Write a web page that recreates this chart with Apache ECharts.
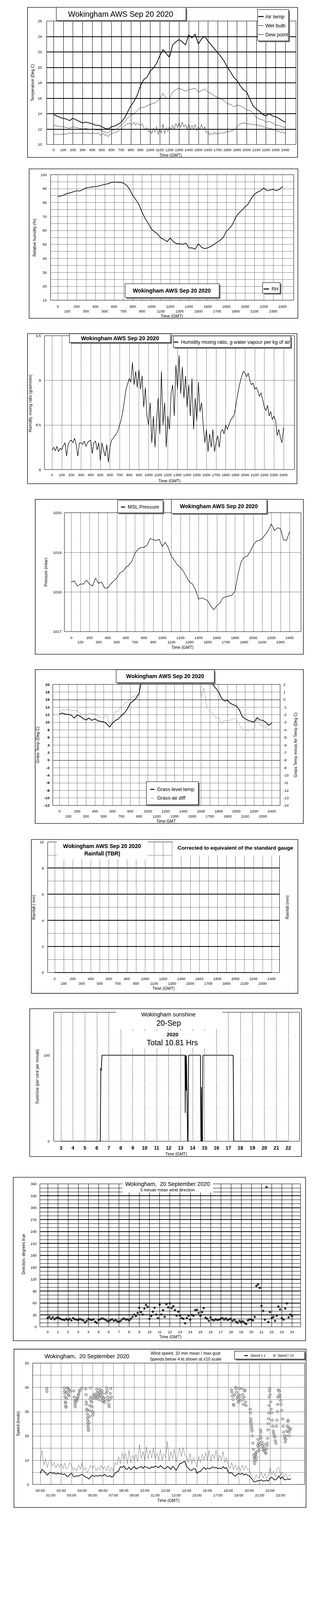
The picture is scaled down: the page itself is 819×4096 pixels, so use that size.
<!DOCTYPE html>
<html><head><meta charset="utf-8">
<script src="https://cdn.jsdelivr.net/npm/echarts@6/dist/echarts.min.js"></script>
<style>html,body{margin:0;padding:0;background:#fff}#c{width:819px;height:4096px}</style>
</head><body><div id="c"></div>
<script>
// ---------- tick labels ----------
const hundredTicks = [0,100,200,300,400,500,600,700,800,900,1000,1100,1200,1300,1400,1500,1600,1700,1800,1900,2000,2100,2200,2300,2400];
const hourTicks = [0,1,2,3,4,5,6,7,8,9,10,11,12,13,14,15,16,17,18,19,20,21,22,23,24];
const sunTicks = [3,4,5,6,7,8,9,10,11,12,13,14,15,16,17,18,19,20,21,22];
const speedTicks = [0,1,2,3,4,5,6,7,8,9,10,11,12,13,14,15,16,17,18,19,20,21,22,23];

// ---------- data (20-minute values, 00:00 .. 24:00) ----------
const airTemp = [13.9,13.7,13.5,13.4,13.3,13.1,13.4,13.2,13.0,12.8,12.9,12.8,12.7,12.5,12.5,12.3,12.1,12.0,12.3,12.4,12.6,12.9,13.4,14.2,15.0,15.6,16.4,17.6,18.4,18.7,19.5,19.9,20.5,21.5,22.3,21.8,21.3,22.9,23.3,23.6,23.3,22.9,24.2,23.8,24.3,23.0,23.7,24.0,23.4,22.9,22.4,21.9,21.4,20.8,20.0,19.4,18.7,18.3,17.6,17.1,16.8,15.9,15.0,14.6,14.3,13.9,13.7,14.0,13.7,13.6,13.4,13.1,12.9];
const wetBulb = [12.5,12.4,12.3,12.3,12.2,12.1,12.3,12.2,12.1,12.0,12.05,12.0,12.0,11.9,11.9,11.8,11.6,11.5,11.9,11.9,12.1,12.5,12.9,13.4,13.8,14.0,14.4,14.8,14.8,15.0,15.2,15.3,15.5,15.9,16.6,16.0,16.0,16.8,17.1,17.3,17.1,16.9,17.1,17.2,17.3,16.8,17.0,17.2,16.8,16.6,16.3,16.1,15.9,15.7,15.3,15.2,14.9,15.1,15.0,14.8,14.5,14.4,14.1,13.5,13.3,13.2,12.9,13.0,12.8,12.5,12.5,12.3,12.2];
const relHum = [84.2,84.8,85.5,86.5,87.0,87.8,88.5,88.3,89.3,90.5,90.8,91.2,91.5,91.8,92.5,93.0,93.5,94.3,94.8,94.6,94.5,94.0,92.5,89.5,85.0,82.0,78.5,73.0,68.5,65.0,61.0,59.0,57.5,54.5,53.5,52.0,54.5,52.0,50.5,50.5,50.0,51.0,47.5,47.5,46.5,50.5,48.0,47.0,47.5,48.5,50.0,51.5,53.0,55.0,59.5,61.5,64.5,69.5,72.5,74.5,77.0,79.0,83.0,86.0,87.5,88.5,90.5,88.5,89.0,89.5,88.5,89.5,91.5];
const pressure = [1018.25,1018.28,1018.15,1018.2,1018.2,1018.3,1018.2,1018.15,1018.35,1018.22,1018.25,1018.1,1018.1,1018.2,1018.28,1018.35,1018.48,1018.52,1018.62,1018.68,1018.78,1018.98,1019.08,1019.12,1019.13,1019.18,1019.35,1019.32,1019.3,1019.33,1019.15,1019.25,1019.12,1018.9,1018.8,1018.68,1018.62,1018.52,1018.38,1018.25,1018.2,1018.05,1017.82,1017.85,1017.82,1017.78,1017.65,1017.55,1017.65,1017.72,1017.85,1017.88,1017.9,1017.92,1018.02,1018.45,1018.75,1018.88,1018.9,1019.02,1019.18,1019.28,1019.3,1019.35,1019.45,1019.55,1019.72,1019.55,1019.62,1019.6,1019.32,1019.3,1019.52];
const grassTemp = [12.2,12.4,12.1,12.1,11.9,11.1,11.9,11.6,11.0,10.6,11.1,10.5,10.9,10.4,10.2,10.1,9.6,8.7,9.8,10.5,10.9,11.8,12.4,13.5,15.0,15.6,16.4,17.6,22.0,25.0,27.0,28.5,30.0,31.0,32.0,31.5,31.0,32.5,33.0,33.0,32.0,31.5,32.0,31.5,31.0,29.0,29.5,29.0,27.0,25.5,23.5,21.5,20.0,19.0,18.0,16.3,15.6,15.8,15.0,14.6,14.3,13.3,11.5,10.9,10.5,10.2,10.0,11.2,10.6,10.5,10.0,9.2,9.8];
const grassAirDiff = [-1.65,-1.35,-1.4,-1.25,-1.5,-1.45,-1.45,-1.9,-2.0,-2.1,-1.8,-1.9,-1.9,-2.2,-2.3,-2.4,-1.9,-3.3,-2.75,-1.6,-1.5,-0.9,-0.6,-0.3,0.1,0.4,0.5,0.65,3.6,6.3,7.5,8.6,9.5,9.5,9.7,9.7,9.7,9.6,9.7,9.4,8.7,8.6,7.8,7.7,6.7,6.0,5.8,5.0,0.25,1.5,-1.1,-1.5,-1.85,-2.5,-2.35,-3.2,-2.75,-2.85,-2.7,-2.5,-2.6,-3.3,-3.9,-4.05,-4.1,-4.0,-3.85,-2.6,-3.3,-3.5,-3.7,-4.0,-3.75];
const rainMm = [0,0,0,0,0,0,0,0,0,0,0,0,0,0,0,0,0,0,0,0,0,0,0,0,0];

// ---------- data (10-minute values, 00:00 .. 24:00) ----------
const dewPoint = [11.3,11.3,11.35,11.3,11.3,11.35, 11.3,11.4,11.3,11.45,11.5,11.4, 11.5,11.45,11.5,11.4,11.5,11.45, 11.5,11.4,11.45,11.5,11.45,11.4, 11.45,11.5,11.4,11.45,11.5,11.2, 11.3,11.45,11.15,11.3,11.0,11.3, 11.45,11.5,11.6,11.6,11.7,11.85, 12.0,12.2,12.4,12.55,12.7,12.7, 12.7,12.6,12.9,12.5,12.8,12.6, 12.5,12.7,12.2,11.9,12.2,11.6, 11.8,11.4,12.1,11.6,12.3,11.3, 12.0,11.5,12.6,11.4,12.2,11.7, 12.3,11.9,12.5,12.0,12.7,12.2, 12.8,12.2,12.9,12.3,12.6,12.0, 12.6,11.9,12.5,12.0,12.6,11.8, 12.3,12.0,12.6,11.9,12.3,11.5, 11.7,11.2,11.5,11.3,11.6,11.3, 11.5,11.35,11.6,11.45,11.5,11.6, 11.7,11.65,11.75,11.8,11.9,12.0, 12.3,12.5,12.65,12.75,12.8,12.75, 12.7,12.65,12.7,12.6,12.55,12.6, 12.5,12.55,12.4,12.45,12.3,12.3, 12.1,12.2,12.0,12.1,11.9,11.95, 11.9,11.7,11.8,11.5,11.65,11.5, 11.5];
const mixRatio = [8.22,8.25,8.21,8.26,8.2,8.24, 8.22,8.27,8.3,8.15,8.28,8.32, 8.33,8.3,8.35,8.28,8.15,8.3, 8.3,8.28,8.32,8.26,8.3,8.32, 8.33,8.18,8.3,8.32,8.22,8.3, 8.1,8.3,8.22,8.15,8.28,8.08, 8.25,8.33,8.35,8.38,8.4,8.44, 8.5,8.56,8.65,8.78,8.9,8.96, 9.02,8.98,9.2,8.95,9.1,8.92, 9.12,8.9,9.05,8.7,8.92,8.6, 8.5,8.75,8.3,8.6,8.25,8.55, 8.8,8.4,9.1,8.5,8.75,8.25, 8.6,8.45,8.85,8.95,8.6,9.17, 8.9,9.28,8.85,9.15,8.8,9.05, 8.7,8.95,8.6,9.02,8.45,8.8, 8.55,8.98,8.65,8.75,8.5,8.3, 8.45,8.2,8.4,8.25,8.45,8.2, 8.3,8.38,8.25,8.42,8.45,8.4, 8.5,8.45,8.5,8.55,8.58,8.6, 8.68,8.8,8.9,8.98,9.05,9.1, 9.08,9.04,9.08,9.0,8.95,8.97, 8.9,8.92,8.88,8.82,8.86,8.78, 8.7,8.66,8.72,8.6,8.65,8.56, 8.6,8.55,8.38,8.45,8.36,8.3, 8.47];
const windDir = [22,25,20,24,19,22, 24,21,19,18,17,20, 17,20,16,22,19,18, 17,20,18,16,11,15, 20,18,17,19,13,10, 17,19,21,20,18,15, 14,17,19,15,17,14, 13,15,19,21,18,19, 16,20,25,31,27,35, 48,37,31,46,55,50, 20,27,38,48,31,22, 56,31,42,25,57,49, 59,47,52,42,28,38, 28,22,20,9,22,28, 18,30,28,42,43,35, 28,37,47,23,20,15, 24,18,16,19,17,18, 20,22,18,21,17,19, 20,15,18,13,10,15, 12,14,10,7,16,19, 18,16,25,103,107,98, 53,40,18,352,12,37, 22,25,15,28,51,44, 22,18,46,59,24,31, 27];
const meanSpeed = [4.5,6.3,5.5,4.8,3.8,4.6, 5.0,4.5,4.8,4.2,4.7,4.3, 4.5,4.0,4.4,3.5,3.2,4.2, 4.6,3.3,3.2,3.6,3.4,3.9, 4.1,3.6,3.0,2.8,2.2,3.2, 3.8,3.3,3.6,3.4,3.8,3.5, 3.6,4.2,3.4,3.3,3.6,3.0, 3.4,4.8,5.1,5.6,7.3,7.0, 7.6,6.5,6.2,7.2,6.0,6.8, 7.4,6.3,6.8,7.0,7.4,6.6, 7.5,7.0,6.8,6.6,7.3,6.9, 7.6,7.2,6.9,7.8,7.1,6.5, 6.6,7.4,7.0,6.2,7.5,6.8, 5.8,7.0,8.5,8.7,9.2,9.6, 7.3,6.8,5.9,5.8,6.5,6.4, 4.6,5.2,5.4,6.3,7.1,6.2, 6.8,6.4,6.7,7.3,6.8,7.0, 6.5,6.8,6.4,7.4,6.6,6.9, 5.0,4.6,4.9,3.9,3.4,4.1, 4.5,4.2,4.6,3.9,4.3,3.8, 3.6,2.7,1.8,1.0,1.2,1.6, 1.5,1.9,1.4,1.5,1.8,1.3, 2.6,3.0,2.2,1.8,2.4,3.6, 2.2,3.2,2.0,1.9,2.3,2.0, 2.4];
const gustSpeed = [9.5,14.0,8.0,10.5,7.0,9.5, 10.2,7.5,9.0,6.8,8.6,7.0, 8.5,6.5,8.8,6.3,7.2,9.0, 7.5,5.8,6.8,5.5,8.0,6.3, 9.0,5.8,7.0,4.8,6.0,8.0, 6.5,7.8,5.5,7.0,5.8,8.0, 6.3,7.5,5.6,7.8,5.4,7.0, 5.3,9.0,8.0,11.5,8.5,13.0, 10.5,12.8,8.5,14.0,9.0,12.0, 10.0,12.5,9.5,16.5,10.5,13.5, 9.8,15.5,10.5,14.0,11.0,15.0, 10.5,13.0,9.8,14.5,10.0,12.5, 11.0,17.8,9.8,13.5,10.5,14.5, 9.0,12.0,15.0,11.5,15.2,12.0, 11.5,9.0,12.8,8.5,11.0,9.0, 7.5,11.5,9.0,12.5,10.0,13.0, 10.0,14.0,9.5,12.5,10.5,14.0, 9.5,12.0,10.0,13.5,9.0,11.0, 8.0,6.5,9.0,6.0,8.0,5.8, 7.5,5.5,8.0,5.8,7.8,6.0, 6.5,4.0,3.0,2.0,4.0,2.5, 3.2,5.0,2.6,4.5,2.4,3.5, 6.8,4.0,5.5,3.2,6.5,7.0, 3.5,5.2,3.0,4.5,2.8,3.8, 4.0];

// speeds below 4 kt shown x10: [hour, value]
const speedTenth = [[0.62,39.5],[0.63,38.3],
[2.3,39.8],[2.32,38.5],[2.35,37.5],[2.38,36],[2.4,34],[2.42,33.5],[2.44,32.2],[2.46,31.8],[2.5,35.5],[2.55,38],[2.6,39.8],[2.65,39.3],[2.7,37],[2.75,36.5],[2.8,39],[2.85,38.3],
[3.2,38.5],[3.25,36],[3.3,34.5],[3.32,33],[3.35,32],[3.4,34],[3.45,35],[3.5,34.5],[3.55,35.5],[3.6,36],[3.65,37],[3.7,37.5],[3.75,38.5],[3.8,39],[4.0,39.8],
[4.35,39.4],[4.38,37],[4.4,34],[4.42,33],[4.45,31],[4.48,30.5],[4.5,29],[4.52,27.5],[4.54,26.5],[4.56,25],[4.58,24],[4.6,23],[4.62,22.2],[4.65,25.5],[4.7,28],[4.72,30.5],[4.75,32.5],[4.78,35],[4.8,39.8],[4.85,36],[4.9,34],[4.95,32],[5.0,30],[5.02,28.5],[5.05,29.5],[5.1,35.5],[5.15,37],
[5.25,36.5],[5.3,37],[5.35,35.5],[5.4,39.3],[5.45,38],[5.5,36],[5.55,35],[5.6,37],[5.65,38],[5.7,39.2],[5.75,37],[5.8,36],[5.85,34.5],[5.9,38.5],[5.95,37.5],[6.0,36],[6.05,35.5],[6.1,34],[6.15,33.8],[6.2,35],[6.3,37.5],[6.35,39.8],[6.4,38.5],[6.45,36],[6.5,34.5],[6.55,33],[6.6,32],[6.65,35],[6.7,37.5],[6.75,39.5],[6.8,36],
[18.3,39],[18.35,38],[18.4,36.5],[18.45,35],[18.5,33],[18.52,32.5],[18.6,37],[18.7,40],[18.75,39.5],[18.8,38],[18.85,36],[18.9,35],[18.95,33.8],[19.0,37],[19.05,39.5],[19.1,36],[19.15,34.5],[19.3,39.5],[19.35,37],[19.4,35],[19.45,33],[19.5,36],[19.55,38.5],[19.6,39],[19.65,34],[19.7,32.5],
[20.1,31],[20.12,29.5],[20.15,27],[20.17,26],[20.2,25],[20.22,24],[20.25,23],[20.27,22],[20.3,20],[20.35,17],[20.4,14.5],[20.45,12],[20.48,11],[20.5,9.5],[20.52,8.5],[20.55,10.5],[20.6,12.5],[20.62,13],[20.65,10],[20.7,11.5],[20.75,13.5],[20.8,16],[20.85,18.5],[20.9,17],[20.92,15],[20.95,14],[21.0,16.5],[21.05,20],[21.1,22.5],[21.12,21.5],[21.15,19],[21.2,17.5],[21.25,16],[21.3,15],[21.35,14],[21.4,16.5],[21.45,15],[21.5,14],[21.55,13],[21.6,12.8],[21.65,14.5],[21.7,16],[21.72,17],[21.75,19],
[21.8,22.5],[21.82,25],[21.85,27],[21.87,29.5],[21.9,32.5],[21.92,36],[21.95,38.5],[21.97,39.5],[22.0,37],[22.05,34],[22.1,31],[22.15,29.5],[22.2,26.5],[22.25,24],[22.3,22],[22.35,21],[22.4,20],[22.45,19.5],[22.5,18],[22.55,17],[22.6,24],[22.65,26.5],[22.7,30],[22.72,33],[22.75,36],[22.8,39],[22.85,38.5],[22.9,37],[22.95,36],[23.0,34.5],[23.05,33],[23.1,30.5],[23.2,27],[23.25,24],[23.3,21.5],[23.35,20],[23.4,19],[23.45,17.5],[23.5,18.5],[23.55,20],[23.6,22],[23.65,24],[23.7,26],[23.72,26.5],[23.75,23.5],[23.8,21.5],[23.85,20],[23.9,22.5],[23.95,23]];

// sunshine (hour, per cent per minute)
const sunHour = [3,6.29,6.33,6.37,6.43,13.37,13.39,13.41,13.43,13.47,13.49,13.51,13.59,13.62,13.67,14.66,14.70,14.75,14.77,14.79,14.83,14.87,17.39,17.41,17.44,22];
const sunPct  = [0,0,85,82,100,100,33,100,100,59,100,100,0,0,100,100,0,63,0,5,0,100,100,80,0,0];

// ---------- time bases ----------
const t20 = Array.from({length:73}, (_, i) => i * 20 / 60 * 100);
const t10h = Array.from({length:145}, (_, i) => i / 6);
const t10c = t10h.map(h => h * 100);
const zip = (xs, ys) => ys.map((v, i) => [xs[i], v]);

// ---------- layout helpers (reference px -> window px) ----------
const K = 0.819;
const s = v => v * K;
const FONT = '"Liberation Sans", Arial, Helvetica, sans-serif';
const grids = [], xAxes = [], yAxes = [], series = [], G = [];

function ls(o) { return {color: o.color || '#000', width: o.width != null ? o.width : 1, type: o.type || 'solid'}; }
function mkLabel(o) {
  const l = {fontSize: s(o.fs || 11.5), fontFamily: FONT, fontWeight: o.weight || 'normal', color: '#000', margin: s(o.margin || 10)};
  if (o.labels) l.customValues = o.labels;
  l.formatter = o.fmt ? o.fmt : (v => '' + v);
  if (o.lh) l.lineHeight = s(o.lh);
  return l;
}
function mkX(g, o) {
  const tick = {show: false};
  if (o.ticks) tick.customValues = o.ticks;
  return {gridIndex: g, type: 'value', min: o.min, max: o.max,
    axisLine: {show: false}, axisTick: tick, axisLabel: mkLabel(o),
    splitLine: o.split ? {show: true, lineStyle: ls(o.split)} : {show: false}};
}
function mkY(g, o, pos) {
  const tick = {show: false};
  if (o.ticks) tick.customValues = o.ticks;
  const a = {gridIndex: g, type: 'value', position: pos, min: o.min, max: o.max,
    axisLine: {show: false}, axisTick: tick, axisLabel: mkLabel(o),
    splitLine: o.split ? {show: true, showMinLine: false, showMaxLine: false, lineStyle: ls(o.split)} : {show: false}};
  if (o.interval != null) a.interval = o.interval;
  if (o.minor) {
    a.minorTick = {show: false, splitNumber: o.minorN};
    a.minorSplitLine = {show: true, lineStyle: ls(o.minor)};
  }
  return a;
}
function panel(pl, xo, yo, y2o) {
  const g = grids.length;
  grids.push({left: s(pl[0]), top: s(pl[1]), width: s(pl[2] - pl[0]), height: s(pl[3] - pl[1]),
    show: true, borderColor: '#000', borderWidth: 1, backgroundColor: 'rgba(0,0,0,0)'});
  xAxes.push(mkX(g, xo));
  const yi = yAxes.length;
  yAxes.push(mkY(g, yo, 'left'));
  if (y2o) yAxes.push(mkY(g, y2o, 'right'));
  return {x: xAxes.length - 1, y: yi, y2: y2o ? yi + 1 : null};
}
function line(ax, yIdx, data, color, width, extra) {
  return Object.assign({type: 'line', xAxisIndex: ax.x, yAxisIndex: yIdx, data: data,
    showSymbol: false, symbol: 'none', silent: true, animation: false, z: 3,
    lineStyle: {color: color, width: s(width)}}, extra || {});
}
function rect(x1, y1, x2, y2, style, z) {
  G.push({type: 'rect', silent: true, z: z, shape: {x: s(x1), y: s(y1), width: s(x2 - x1), height: s(y2 - y1)}, style: style});
}
function frame(x1, y1, x2, y2) { rect(x1, y1, x2, y2, {fill: 'none', stroke: '#000', lineWidth: s(1.6)}, 40); }
function white(x1, y1, x2, y2) { rect(x1, y1, x2, y2, {fill: '#fff', stroke: 'none'}, 45); }
function sbox(x1, y1, x2, y2) {
  rect(x1 + 4, y1 + 4, x2 + 4, y2 + 4, {fill: '#7a7a7a', stroke: 'none'}, 46);
  rect(x1, y1, x2, y2, {fill: '#fff', stroke: '#000', lineWidth: s(1.3)}, 47);
}
function txt(x, y, text, size, o) {
  o = o || {};
  const al = o.align || 'center';
  G.push({type: 'text', silent: true, z: 55, x: s(x), y: s(y), rotation: o.rot ? Math.PI / 2 : 0,
    style: {text: text, fill: '#000', font: (o.bold ? 'bold ' : '') + s(size).toFixed(2) + 'px ' + FONT,
      textAlign: al, textVerticalAlign: 'middle', align: al, verticalAlign: 'middle'}});
}
function seg(x1, y1, x2, y2, w, color) {
  G.push({type: 'line', silent: true, z: 55, shape: {x1: s(x1), y1: s(y1), x2: s(x2), y2: s(y2)},
    style: {stroke: color || '#000', lineWidth: s(w)}});
}
const fmt2 = v => (Math.round(v / 100) % 2 ? '\n' : '') + v;
const fmtHH = v => (v % 2 ? '\n' : '') + (v < 10 ? '0' : '') + v + ':00';
const DOT = {type: 'dotted', width: 1, color: '#000'};
const TITLE = 'Wokingham AWS Sep 20 2020';

// ===== Panel 1: temperatures =====
let a = panel([146, 65.7, 925, 451.7],
  {min: -71, max: 2511, ticks: hundredTicks, labels: hundredTicks, margin: 11.5, split: {width: 1}},
  {min: 10, max: 26, interval: 2, margin: 15, split: {width: s(2.4)}});
series.push(line(a, a.y, zip(t20, airTemp), '#000', 2.2));
series.push(line(a, a.y, zip(t20, wetBulb), '#000', 1));
series.push(line(a, a.y, zip(t10c, dewPoint), '#000', 1));
frame(86, 23, 930, 492);
sbox(176, 23, 581, 64); txt(377, 43.5, TITLE, 24);
sbox(805, 30, 902, 128);
seg(807, 51.7, 824, 51.7, 3); txt(829, 51.7, 'Air temp', 16, {align: 'left'});
seg(807, 80, 824, 80, 1.2); txt(829, 80, 'Wet bulb', 16, {align: 'left'});
seg(807, 108, 824, 108, 1.2); txt(829, 108, 'Dew point', 16, {align: 'left'});
txt(102.2, 258.3, 'Temperature (Deg C)', 12.5, {rot: true});
txt(533, 485, 'Time (GMT)', 13);

// ===== Panel 2: relative humidity =====
a = panel([158, 546, 918, 938.3],
  {min: -78, max: 2520, ticks: hundredTicks, labels: hundredTicks, fmt: fmt2, lh: 15, margin: 11.5, split: DOT},
  {min: 10, max: 100, interval: 10, margin: 12, split: DOT, minor: DOT, minorN: 2});
series.push(line(a, a.y, zip(t20, relHum), '#000', 2));
frame(91, 528, 931, 995);
sbox(391, 886.7, 685, 930); txt(536.7, 908.3, TITLE, 17.2, {bold: true});
sbox(821, 883.3, 875.4, 916.7); seg(824, 903.3, 841, 903.3, 3); txt(848.6, 903.3, 'RH', 15, {align: 'left'});
txt(108.6, 742.5, 'Relative humidity (%)', 12.5, {rot: true});
txt(537, 988, 'Time (GMT)', 13);

// ===== Panel 3: humidity mixing ratio =====
a = panel([139, 1049.3, 920, 1467.7],
  {min: -79, max: 2512, ticks: hundredTicks, labels: hundredTicks, margin: 11.5, split: DOT},
  {min: 8, max: 9.5, interval: 0.5, margin: 11, split: DOT});
series.push(line(a, a.y, zip(t10c, mixRatio), '#000', 1.6));
frame(86, 1043, 928, 1512);
sbox(217, 1043.3, 533.5, 1070.7); txt(374.8, 1057.3, TITLE, 17.2, {bold: true});
sbox(541.9, 1050, 908.6, 1086); seg(543.5, 1069.3, 557, 1069.3, 3);
txt(565.5, 1069.3, 'Humidity mixing ratio, g water vapour per kg of air', 15.5, {align: 'left'});
txt(94.6, 1260.8, 'Humidity mixing ratio (grammes)', 12.5, {rot: true});
txt(529.5, 1502.7, 'Time (GMT)', 13);

// ===== Panel 4: pressure =====
a = panel([201.3, 1602.7, 940.6, 1974.3],
  {min: -76, max: 2526, ticks: hundredTicks, labels: hundredTicks, fmt: fmt2, lh: 13.3, margin: 12, split: DOT},
  {min: 1017, max: 1020, interval: 1, margin: 9, fs: 12, split: DOT});
series.push(line(a, a.y, zip(t20, pressure), '#000', 1.5));
frame(110, 1561, 948, 2045);
sbox(367.4, 1563.3, 509.3, 1603.3); seg(378, 1585, 391, 1585, 3); txt(399.4, 1585, 'MSL Pressure', 15.5, {align: 'left'});
sbox(535.5, 1560.7, 833.9, 1605); txt(683.7, 1582.7, TITLE, 17.2, {bold: true});
txt(143.8, 1788.3, 'Pressure (mbar)', 12.5, {rot: true});
txt(570, 2023.3, 'Time (GMT)', 13);

// ===== Panel 5: grass temperature =====
a = panel([164.9, 2139.3, 875.4, 2517.7],
  {min: -76, max: 2495, ticks: hundredTicks, labels: hundredTicks, fmt: fmt2, lh: 15.7, margin: 10, split: DOT},
  {min: -12, max: 20, interval: 2, margin: 10, fs: 12, weight: 'bold', split: DOT},
  {min: -14, max: 2, interval: 1, margin: 10, fs: 11.5});
series.push(line(a, a.y2, zip(t20, grassAirDiff), '#8a8a8a', 1.1));
series.push(line(a, a.y, zip(t20, grassTemp), '#000', 2.2, {
  markLine: {silent: true, symbol: 'none', animation: false, label: {show: false},
    lineStyle: {color: '#000', width: 1, type: 'solid'}, data: [{yAxis: 0}, {yAxis: 16}]}}));
frame(110, 2093, 948, 2574);
sbox(363, 2093.3, 669.6, 2134); txt(516, 2113.3, TITLE, 17.2, {bold: true});
sbox(457.5, 2443.3, 619.8, 2515.7);
seg(469.6, 2467.3, 482.4, 2467.3, 3); txt(490.7, 2467.3, 'Grass level temp', 15.5, {align: 'left'});
seg(469.6, 2495, 482.4, 2495, 1.2, '#8a8a8a'); txt(490.7, 2495, 'Grass-air diff', 15.5, {align: 'left'});
txt(118.2, 2328.3, 'Grass Temp (Deg C)', 12.5, {rot: true});
txt(923.3, 2328.3, 'Grass Temp minus Air Temp (Deg C)', 12.5, {rot: true});
txt(519, 2566.7, 'Time GMT', 13);

// ===== Panel 6: rainfall =====
a = panel([148.9, 2631.7, 873.5, 3040],
  {min: -77, max: 2488, ticks: hundredTicks, labels: hundredTicks, fmt: fmt2, lh: 14.4, margin: 11.8, split: DOT},
  {min: 0, max: 10, interval: 2, margin: 12, split: {width: s(2.4)}, minor: DOT, minorN: 2});
series.push(line(a, a.y, zip(hundredTicks, rainMm), '#000', 2.6));
frame(98, 2624, 931, 3105);
white(177.6, 2628, 461.3, 2686); white(540, 2628, 877, 2674);
txt(318.8, 2645, TITLE, 17.2, {bold: true});
txt(319.5, 2668.3, 'Rainfall (TBR)', 17, {bold: true});
txt(735.5, 2650, 'Corrected to equivalent of the standard gauge', 16.5, {bold: true});
txt(105.4, 2835.8, 'Rainfall ( mm)', 12.5, {rot: true});
txt(897.8, 2835.8, 'Rainfall (mm)', 12.5, {rot: true});
txt(511, 3089.3, 'Time (GMT)', 13);

// ===== Panel 7: sunshine =====
a = panel([168, 3164, 936, 3567.2],
  {min: 2.4, max: 22.94, ticks: sunTicks, labels: sunTicks, fs: 15.5, weight: 'bold', margin: 13, split: {type: [s(3), s(3)], width: 1}},
  {min: 0, max: 150, ticks: [50, 100], labels: [0, 100], margin: 13, split: {type: 'dotted', color: '#9a9a9a', width: 1}});
series.push(line(a, a.y, zip(sunHour, sunPct), '#000', 2.2));
frame(93, 3153, 942, 3615);
white(363, 3160, 695, 3218); white(385, 3222, 672, 3276);
txt(526.2, 3171.4, 'Wokingham sunshine', 17.8);
txt(527, 3198, '20-Sep', 23.8);
txt(539, 3233.6, '2020', 16.4, {bold: true});
txt(538.3, 3258.4, 'Total 10.81 Hrs', 23.8);
txt(116.3, 3365.2, 'Sunshine (per cent per minute)', 12.5, {rot: true});
txt(550.5, 3607.5, 'Time (GMT)', 12.7);

// ===== Panel 8: wind direction =====
a = panel([124.6, 3700.5, 939.3, 4147.3],
  {min: -0.764, max: 24.84, ticks: hourTicks, labels: hourTicks, margin: 10, split: {width: 1}},
  {min: 0, max: 360, interval: 30, margin: 10, split: {width: s(2.4)}, minor: {width: 1}, minorN: 3});
series.push({type: 'scatter', xAxisIndex: a.x, yAxisIndex: a.y, data: zip(t10h, windDir), symbol: 'diamond',
  symbolSize: [s(9), s(9)], itemStyle: {color: '#000'}, silent: true, animation: false, z: 3});
frame(41.5, 3680, 955, 4191);
white(383, 3690, 666, 3727);
txt(523.6, 3700.5, 'Wokingham,  20 September 2020', 17.8);
txt(523.6, 3719, '5 minute mean wind direction', 13.1);
txt(73.5, 3920.3, 'Direction, degrees true', 12.5, {rot: true});
txt(532, 4178, 'Time (GMT)', 13);

// ===== Panel 9: wind speed =====
a = panel([102.2, 4260.7, 952.1, 4640],
  {min: -0.726, max: 25.31, ticks: speedTicks, labels: speedTicks, fmt: fmtHH, lh: 14.4, margin: 11.8, split: DOT},
  {min: 0, max: 50, interval: 10, margin: 12, split: DOT, minor: DOT, minorN: 2});
series.push(line(a, a.y, zip(t10h, gustSpeed), '#4a4a4a', 0.9));
series.push(line(a, a.y, zip(t10h, meanSpeed), '#000', 2));
series.push({type: 'scatter', xAxisIndex: a.x, yAxisIndex: a.y, data: speedTenth, symbol: 'diamond',
  symbolSize: [s(10), s(9)], itemStyle: {color: '#c4c4c4', borderColor: '#000', borderWidth: 0.8},
  silent: true, animation: false, z: 4});
frame(43.5, 4217, 956.5, 4712);
txt(271.6, 4239.3, 'Wokingham,  20 September 2020', 17.8);
txt(579.9, 4230, 'Wind speed, 10 min mean / max gust', 13.2);
txt(579.9, 4247.3, 'Speeds below 4 kt shown at x10 scale', 13.2);
sbox(732.9, 4223.3, 952.1, 4248.3);
seg(763.6, 4237.3, 774.4, 4237.3, 3); txt(782.7, 4237.3, 'Speed x 1', 10.4, {align: 'left'});
G.push({type: 'polygon', silent: true, z: 55, shape: {points: [[s(857.5), s(4233)], [s(861.5), s(4237.3)], [s(857.5), s(4241.6)], [s(853.5), s(4237.3)]]},
  style: {fill: '#c4c4c4', stroke: '#000', lineWidth: 0.8}});
txt(867.7, 4237.3, 'Speed / 10', 10.4, {align: 'left'});
txt(56.2, 4450, 'Speed (knots)', 12.5, {rot: true});
txt(526, 4689.3, 'Time (GMT)', 13);

const chart = echarts.init(document.getElementById('c'), null, {renderer: 'svg', width: 819, height: 4096});
chart.setOption({
  animation: false,
  backgroundColor: '#fff',
  textStyle: {fontFamily: FONT},
  grid: grids, xAxis: xAxes, yAxis: yAxes, series: series,
  graphic: {elements: G}
});
</script>
</body></html>
